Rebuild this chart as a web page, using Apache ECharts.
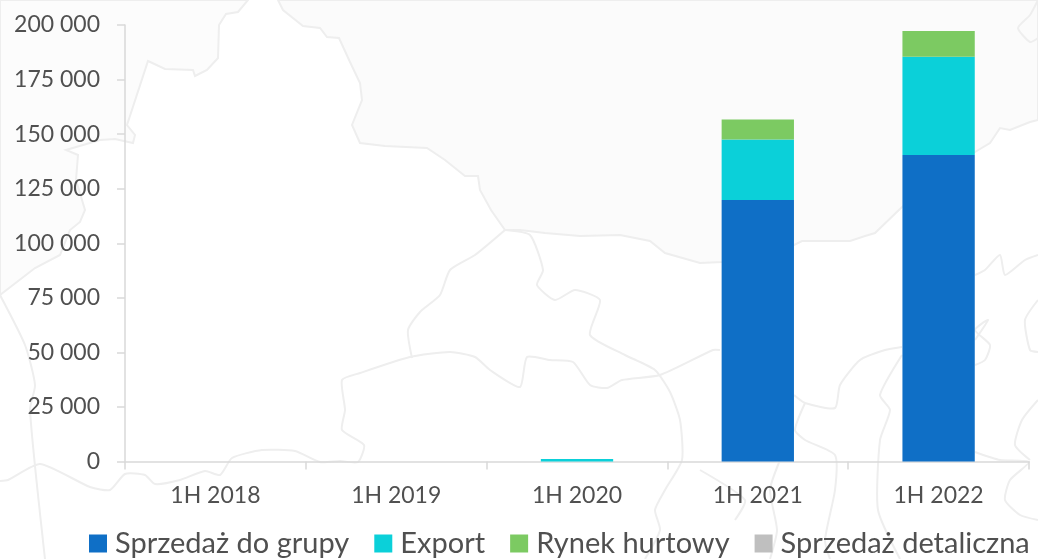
<!DOCTYPE html>
<html><head><meta charset="utf-8">
<style>html,body{margin:0;padding:0;background:#fff}#c{width:1038px;height:559px}</style>
<script src="https://cdn.jsdelivr.net/npm/echarts@6/dist/echarts.min.js"></script>
</head><body><div id="c"></div>
<script>
const categories = ['1H 2018','1H 2019','1H 2020','1H 2021','1H 2022'];
const sprzedazDoGrupy = [0,0,0,119800,140400];
const exportSales = [0,0,1100,27700,45100];
const rynekHurtowy = [0,0,0,9200,11700];
const sprzedazDetaliczna = [0,0,0,0,0];
const seriesNames = ['Sprzedaż do grupy','Export','Rynek hurtowy','Sprzedaż detaliczna'];
const colors = ['#0F6FC6','#0BD0D9','#7CCA62','#BFBFBF'];

// faint decorative map in the background
const shaded = [[0,0],[248,0],[238,12],[226,14],[219,25],[218,58],[207,70],[195,76],[193,70],[165,69],[148,61],[127,125],[135,135],[133,143],[115,139],[100,140],[66,150],[78,155],[76,180],[85,210],[80,222],[70,230],[60,255],[35,268],[0,295]];
const shaded2 = [[278,0],[283,10],[303,26],[320,28],[327,37],[339,38],[350,62],[360,83],[362,100],[352,125],[360,143],[385,146],[427,148],[445,160],[465,176],[478,176],[480,190],[491,210],[505,230],[520,230],[545,233],[580,236],[620,235],[650,241],[665,253],[700,263],[722,262],[794,245],[802,241],[850,241],[865,236],[875,233],[902,207],[975,152],[990,143],[1000,128],[1010,130],[1030,122],[1038,120],[1038,0]];
const mapLines = [
 [[0,481],[8,480],[40,464],[90,487],[110,490],[125,474],[145,475],[155,484],[180,480],[205,471],[220,475],[232,458],[262,450],[295,451],[320,462],[340,461],[358,462],[364,445],[342,430],[345,410],[342,380],[360,373],[410,357],[450,352],[475,357],[490,370],[520,387],[527,357],[550,360],[573,362],[590,385],[607,388],[622,380],[660,375],[713,350],[720,350]],
 [[412,358],[408,330],[420,312],[440,295],[450,270],[475,255],[505,230]],
 [[505,230],[530,235],[543,270],[537,285],[555,300],[575,290],[600,300],[590,335],[625,355],[655,370],[670,392],[680,420],[682,460],[665,490],[655,510],[660,530],[645,559]],
 [[794,395],[805,403],[835,408],[840,385],[860,360],[885,350],[902,347]],
 [[805,403],[795,430],[805,440],[835,455],[835,490],[825,540],[830,559]],
 [[902,355],[880,395],[890,410],[880,440],[878,510],[900,559]],
 [[975,340],[988,320],[975,330],[990,345],[985,360],[975,365]],
 [[975,452],[1000,460],[1029,462],[1010,480],[1005,500],[1020,515],[1038,520]],
 [[1038,300],[1025,320],[1030,350],[1038,352]],
 [[1038,400],[1022,420],[1015,445],[1030,460]],
 [[0,295],[25,345],[35,385],[30,410],[45,559]],
 [[1038,0],[1030,15],[1018,28],[1030,42],[1038,38]],
 [[975,275],[985,270],[1000,255],[1005,275],[1025,260],[1038,255]],
 [[780,460],[770,490],[777,530],[770,559]],
 [[700,470],[745,500],[735,520]]
];
const lineColor = '#eeeeee';
const bgGraphics = [
 {type:'polygon',silent:true,z:-10,shape:{points:shaded},style:{fill:'#fcfcfc',stroke:lineColor,lineWidth:2}},
 {type:'polygon',silent:true,z:-10,shape:{points:shaded2},style:{fill:'#fbfbfb',stroke:lineColor,lineWidth:2}}
].concat(mapLines.map(p=>({type:'polyline',silent:true,z:-10,shape:{points:p,smooth:0.2},style:{fill:'none',stroke:lineColor,lineWidth:2}})));

const chart = echarts.init(document.getElementById('c'),null,{renderer:'canvas'});
const font = 'Lato, "Open Sans", sans-serif';
chart.setOption({
 animation:false,
 backgroundColor:'#fff',
 textStyle:{fontFamily:font},
 graphic:bgGraphics,
 grid:{left:125,right:9,top:25,bottom:97.5,containLabel:false},
 legend:{
  left:89,top:529,width:949,itemWidth:18,itemHeight:18,itemGap:25,
  icon:'rect',padding:0,
  textStyle:{fontFamily:font,fontSize:29,color:'#505050',padding:[0,0,0,3]},
  data:seriesNames
 },
 xAxis:{type:'category',data:categories,
  axisLine:{lineStyle:{color:'#D9D9D9',width:1.5}},
  axisTick:{show:true,length:8,lineStyle:{color:'#D9D9D9',width:1.5}},
  axisLabel:{color:'#505050',fontSize:23,margin:23,fontFamily:font}},
 yAxis:{type:'value',min:0,max:200000,interval:25000,
  splitLine:{show:false},
  axisLine:{show:true,lineStyle:{color:'#D9D9D9',width:1.5}},
  axisTick:{show:true,length:8,lineStyle:{color:'#D9D9D9',width:1.5}},
  axisLabel:{color:'#505050',fontSize:23,margin:25,fontFamily:font,
   formatter:v=>String(v).replace(/\B(?=(\d{3})+$)/g,' ')}},
 series:[sprzedazDoGrupy,exportSales,rynekHurtowy,sprzedazDetaliczna].map((d,i)=>({
  name:seriesNames[i],type:'bar',stack:'t',data:d,barWidth:'40%',itemStyle:{color:colors[i]}
 }))
});
</script></body></html>
